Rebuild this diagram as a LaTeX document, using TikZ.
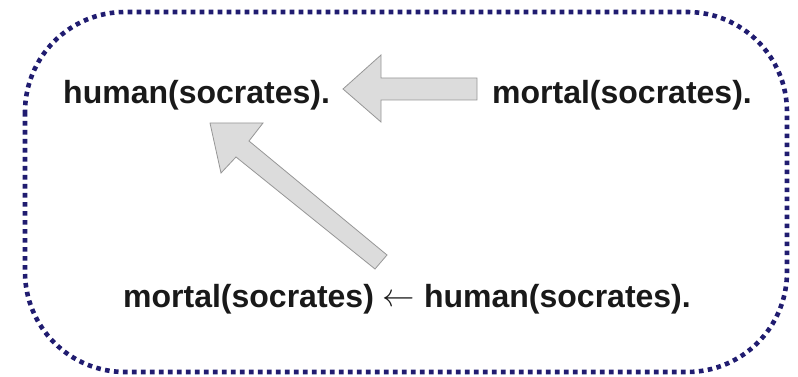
\documentclass[tikz,border=0pt]{standalone}
\usepackage{fontspec}
\setmainfont{Liberation Sans}
\definecolor{bordernavy}{RGB}{32,28,112}
\definecolor{arrowfill}{RGB}{220,220,220}
\definecolor{arrowline}{RGB}{150,150,150}
\begin{document}
\begin{tikzpicture}[x=1pt,y=-1pt,
  lbl/.style={anchor=base west,inner sep=0pt,font=\fontsize{32}{38}\selectfont\bfseries,text=black!90},
  blockarrow/.style={fill=arrowfill,draw=arrowline,line width=0.8pt,line join=miter},
  frame/.style={draw=bordernavy,line width=4.6pt,dash pattern=on 4.6pt off 4.4pt,rounded corners=100pt}]
\useasboundingbox (0,0) rectangle (798,377);
\draw[frame] (25,12) rectangle (787,372);
\node[lbl] (human) at (63,104) {human(socrates).};
\node[lbl] (mortal) at (492,104) {mortal(socrates).};
\node[lbl] (rule) at (123,307) {mortal(socrates) \raisebox{0.5pt}{\scalebox{1.3}{$\leftarrow$}} human(socrates).};
\draw[blockarrow] (477,78) -- (381,78) -- (381,55) -- (343,89) -- (381,122) -- (381,100) -- (477,100) -- cycle;
\draw[blockarrow] (387,255) -- (249,141) -- (263,123) -- (210,123) -- (221,173) -- (236,157) -- (375,269) -- cycle;
\end{tikzpicture}
\end{document}
